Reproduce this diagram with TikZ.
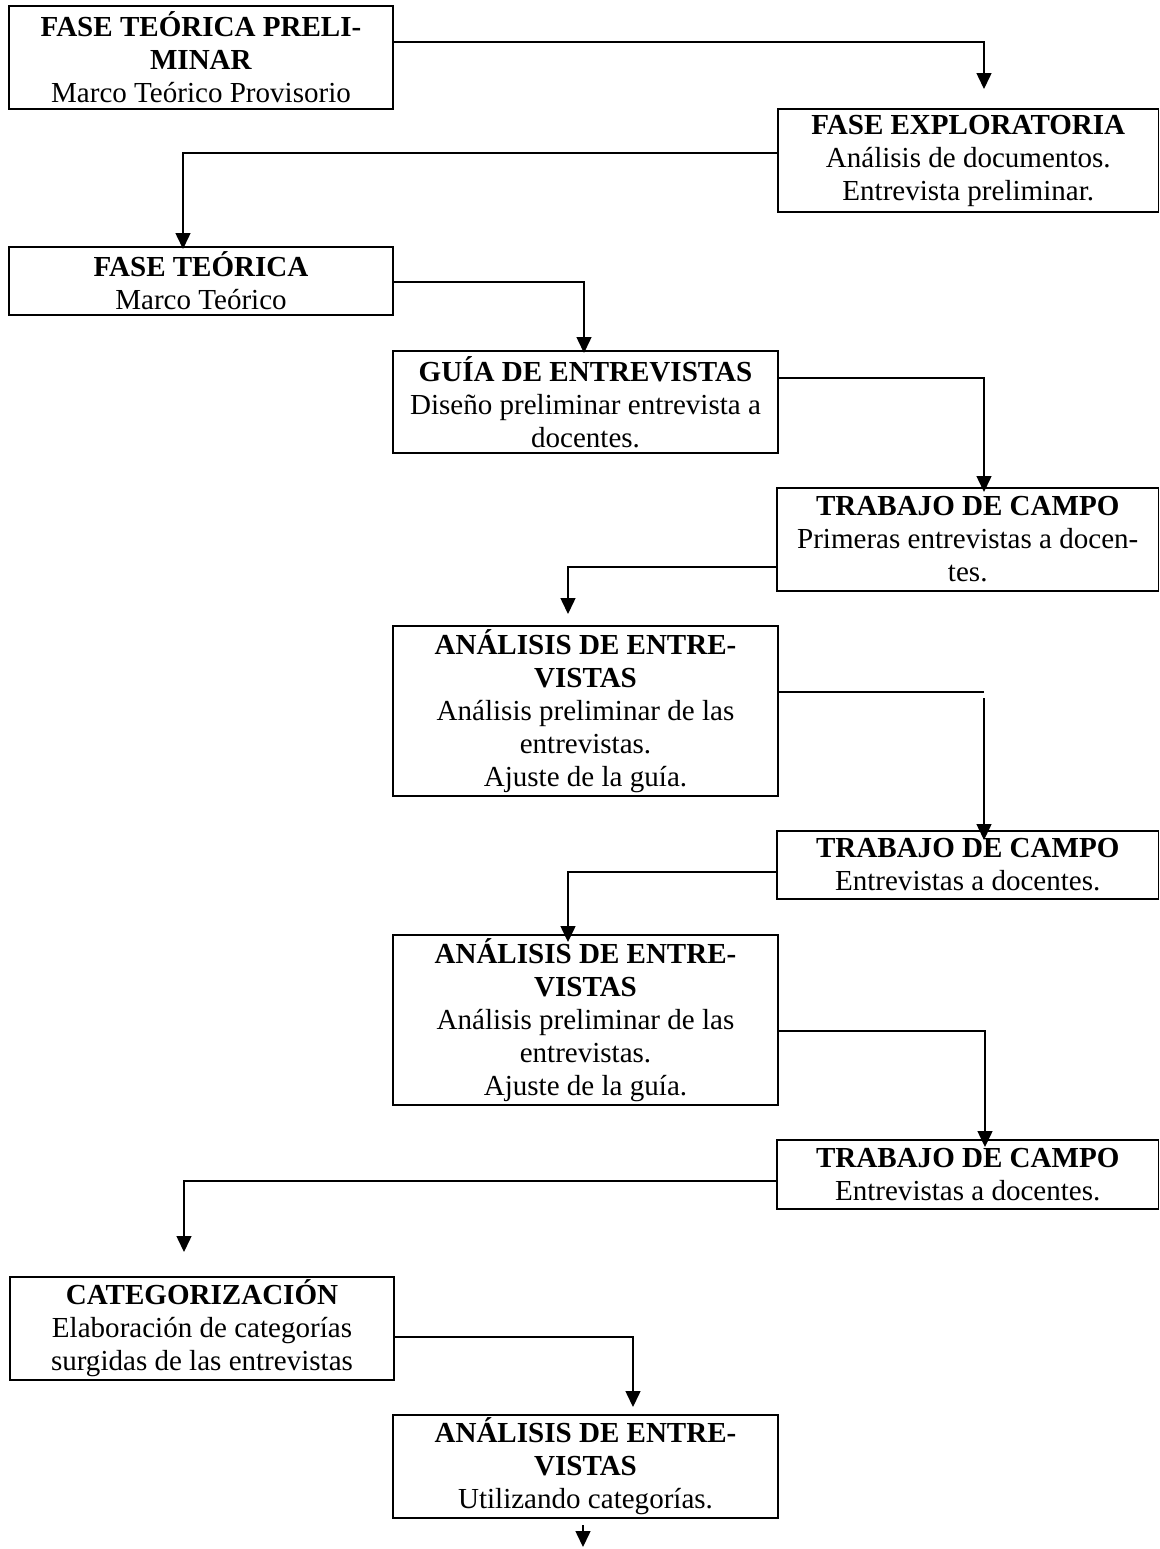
\documentclass[tikz,border=0pt]{standalone}
\usepackage{fontspec}
\setmainfont{Liberation Serif}
\usetikzlibrary{arrows.meta,fit}
\begin{document}
\begin{tikzpicture}[x=0.42pt,y=-0.42pt,
  box/.style={draw,line width=0.62pt,inner sep=0pt},
  txt/.style={inner sep=0pt,align=center,font=\fontsize{12.2}{13.86}\selectfont},
  conn/.style={line width=0.55pt},
  arr/.style={conn,-{Triangle[width=6.3pt,length=6.7pt]}}]
\useasboundingbox (0,0) rectangle (1160,1549);
% boxes
\node[box,fit={(9,6)(393,109)},label={[txt]center:{\textbf{FASE TEÓRICA PRELI-}\\\textbf{MINAR}\\Marco Teórico Provisorio}}] (b1) {};
\node[box,fit={(778,109)(1158.5,212)},label={[txt]center:{\textbf{FASE EXPLORATORIA}\\Análisis de documentos.\\Entrevista preliminar.}}] (b2) {};
\node[box,fit={(9,247)(393,315)},label={[txt]center:{\textbf{FASE TEÓRICA}\\Marco Teórico}}] (b3) {};
\node[box,fit={(393,351)(778,453)},label={[txt]center:{\textbf{GUÍA DE ENTREVISTAS}\\Diseño preliminar entrevista a\\docentes.}}] (b4) {};
\node[box,fit={(777,488)(1158.5,591)},label={[txt]center:{\textbf{TRABAJO DE CAMPO}\\Primeras entrevistas a docen-\\tes.}}] (b5) {};
\node[box,fit={(393,626)(778,796)},label={[txt]center:{\textbf{ANÁLISIS DE ENTRE-}\\\textbf{VISTAS}\\Análisis preliminar de las\\entrevistas.\\Ajuste de la guía.}}] (b6) {};
\node[box,fit={(777,831)(1158.5,899)},label={[txt]center:{\textbf{TRABAJO DE CAMPO}\\Entrevistas a docentes.}}] (b7) {};
\node[box,fit={(393,935)(778,1105)},label={[txt]center:{\textbf{ANÁLISIS DE ENTRE-}\\\textbf{VISTAS}\\Análisis preliminar de las\\entrevistas.\\Ajuste de la guía.}}] (b8) {};
\node[box,fit={(777,1140)(1158.5,1209)},label={[txt]center:{\textbf{TRABAJO DE CAMPO}\\Entrevistas a docentes.}}] (b9) {};
\node[box,fit={(10,1277)(394,1380)},label={[txt]center:{\textbf{CATEGORIZACIÓN}\\Elaboración de categorías\\surgidas de las entrevistas}}] (b10) {};
\node[box,fit={(393,1415)(778,1518)},label={[txt]center:{\textbf{ANÁLISIS DE ENTRE-}\\\textbf{VISTAS}\\Utilizando categorías.}}] (b11) {};
% bends and free ends
\coordinate (k1) at (984,42);   \coordinate (t1) at (984,89);
\coordinate (k2) at (183,153);  \coordinate (t2) at (183,249);
\coordinate (k3) at (584,282);  \coordinate (t3) at (584,353);
\coordinate (k4) at (984,378);  \coordinate (t4) at (984,492);
\coordinate (k5) at (568,567);  \coordinate (t5) at (568,614);
\coordinate (k6) at (984,692);  \coordinate (k6b) at (984,698); \coordinate (t6) at (984,840);
\coordinate (k7) at (568,872);  \coordinate (t7) at (568,942);
\coordinate (k8) at (985,1031); \coordinate (t8) at (985,1147);
\coordinate (k9) at (184,1181); \coordinate (t9) at (184,1252);
\coordinate (k10) at (633,1337); \coordinate (t10) at (633,1407);
\coordinate (s11) at (583,1525); \coordinate (t11) at (583,1547);
% connectors
\draw[arr] (b1.east |- k1) -- (k1) -- (t1);
\draw[arr] (b2.west |- k2) -- (k2) -- (t2);
\draw[arr] (b3.east |- k3) -- (k3) -- (t3);
\draw[arr] (b4.east |- k4) -- (k4) -- (t4);
\draw[arr] (b5.west |- k5) -- (k5) -- (t5);
\draw[conn] (b6.east |- k6) -- (k6);
\draw[arr] (k6b) -- (t6);
\draw[arr] (b7.west |- k7) -- (k7) -- (t7);
\draw[arr] (b8.east |- k8) -- (k8) -- (t8);
\draw[arr] (b9.west |- k9) -- (k9) -- (t9);
\draw[arr] (b10.east |- k10) -- (k10) -- (t10);
\draw[arr] (s11) -- (t11);
\end{tikzpicture}
\end{document}
